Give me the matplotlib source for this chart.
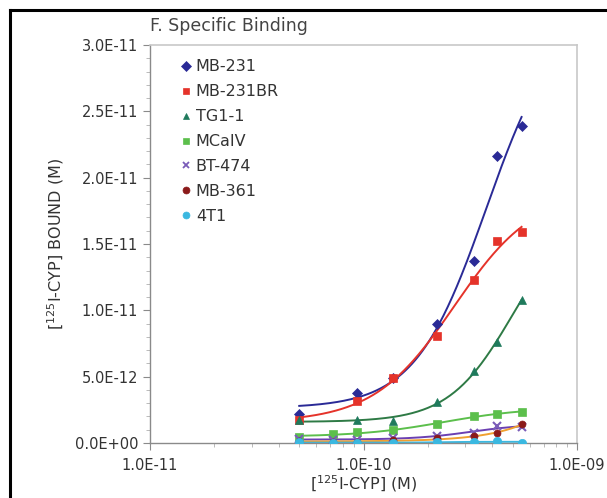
import numpy as np
import matplotlib.pyplot as plt
from matplotlib.lines import Line2D
from matplotlib.ticker import FixedLocator, FuncFormatter, LogLocator, NullFormatter

# free ligand concentrations (M)
conc = [5.0e-11, 9.3e-11, 1.37e-10, 2.2e-10, 3.3e-10, 4.2e-10, 5.5e-10]
conc_low = [5.0e-11, 7.2e-11, 9.3e-11, 1.37e-10, 2.2e-10, 3.3e-10, 4.2e-10, 5.5e-10]

# specific binding (M)
mb231 = [2.2e-12, 3.8e-12, 4.9e-12, 9.0e-12, 1.37e-11, 2.16e-11, 2.39e-11]
mb231br = [1.7e-12, 3.2e-12, 4.9e-12, 8.1e-12, 1.23e-11, 1.52e-11, 1.59e-11]
tg11 = [1.73e-12, 1.73e-12, 1.66e-12, 3.1e-12, 5.4e-12, 7.6e-12, 1.08e-11]
mcaiv = [0.45e-12, 0.7e-12, 0.8e-12, 0.95e-12, 1.4e-12, 2.05e-12, 2.2e-12, 2.35e-12]
bt474 = [0.3e-12, 0.2e-12, 0.25e-12, 0.4e-12, 0.55e-12, 0.75e-12, 1.25e-12, 1.2e-12]
mb361 = [0.15e-12, 0.05e-12, 0.1e-12, 0.2e-12, 0.35e-12, 0.5e-12, 0.75e-12, 1.4e-12]
t41 = [0.05e-12, 0.03e-12, 0.0, 0.02e-12, 0.05e-12, 0.1e-12, 0.15e-12, 0.02e-12]

series = [
    ("MB-231", conc, mb231, "D", "#2a2a96", "#2a2a96", 5.5),
    ("MB-231BR", conc, mb231br, "s", "#e5332a", "#e5332a", 6),
    ("TG1-1", conc, tg11, "^", "#1f7a5c", "#2e7a45", 6),
    ("MCaIV", conc_low, mcaiv, "s", "#5cbf4c", "#5cbf4c", 6),
    ("BT-474", conc_low, bt474, "x", "#7a5cb8", "#6b3fb2", 6),
    ("MB-361", conc_low, mb361, "o", "#8b1a1a", "#f0a030", 5),
    ("4T1", conc_low, t41, "o", "#3bb8e0", "#3bb8e0", 6),
]


def hill_fit(x, y):
    # grid search over K and n, offset and span by least squares
    best = None
    for lk in np.linspace(-10.5, -8.5, 81):
        for n in np.linspace(1.0, 6.0, 51):
            f = x ** n / (10 ** (lk * n) + x ** n)
            A = np.column_stack([np.ones_like(f), f])
            c, *_ = np.linalg.lstsq(A, y, rcond=None)
            r = np.sum((A @ c - y) ** 2)
            if best is None or r < best[0]:
                best = (r, lk, n, c)
    _, lk, n, c = best
    return lambda t: c[0] + c[1] * t ** n / (10 ** (lk * n) + t ** n)


fig = plt.figure(figsize=(6.07, 4.98), dpi=100)
ax = fig.add_axes([0.2471, 0.1104, 0.7035, 0.7992])

handles = []
for name, x, y, mk, mcol, lcol, ms in series:
    x = np.array(x)
    y = np.array(y)
    curve = hill_fit(x, y)
    xs = np.logspace(np.log10(x.min()), np.log10(x.max()), 200)
    ax.plot(xs, curve(xs), color=lcol, lw=1.4, zorder=2)
    ax.plot(x, y, ls="none", marker=mk, color=mcol, ms=ms, mew=1.5 if mk == "x" else 0.5, zorder=3)
    handles.append(Line2D([], [], ls="none", marker=mk, color=mcol, ms=5, mew=1.3 if mk == "x" else 0.5, label=name))

ax.set_xscale("log")
ax.set_xlim(1e-11, 1e-9)
ax.set_ylim(0, 3.0e-11)

ax.xaxis.set_major_locator(FixedLocator([1e-11, 1e-10, 1e-9]))
ax.xaxis.set_minor_locator(LogLocator(base=10, subs=np.arange(2, 10)))
ax.xaxis.set_minor_formatter(NullFormatter())
ax.xaxis.set_major_formatter(FuncFormatter(lambda v, p: "%.1E" % v))
ax.yaxis.set_major_locator(FixedLocator(np.arange(0, 3.01e-11, 5e-12)))
ax.yaxis.set_minor_locator(FixedLocator(np.arange(0, 3.01e-11, 1e-12)))
ax.yaxis.set_major_formatter(FuncFormatter(lambda v, p: "%.1E" % v))

for s in ["top", "right"]:
    ax.spines[s].set_color("#c8c8c8")
    ax.spines[s].set_linewidth(1.2)
for s in ["left", "bottom"]:
    ax.spines[s].set_color("#8a8a8a")
    ax.spines[s].set_linewidth(1.0)

ax.tick_params(which="major", direction="out", length=5, color="#8a8a8a", labelsize=10.5, labelcolor="#333333")
ax.tick_params(which="minor", direction="out", length=3, color="#b0b0b0")
ax.tick_params(axis="x", which="major", pad=6)

ax.set_xlabel("[$^{125}$I-CYP] (M)", fontsize=11.5, color="#333333", labelpad=0)
ax.set_ylabel("[$^{125}$I-CYP] BOUND (M)", fontsize=11.5, color="#333333", labelpad=6)
ax.text(0.0, 1.025, "F. Specific Binding", transform=ax.transAxes, fontsize=12.5, color="#444444", ha="left", va="bottom")

ax.legend(handles=handles, loc="upper left", bbox_to_anchor=(0.04, 1.0), frameon=False,
          fontsize=11.5, handlelength=0.6, handletextpad=0.3, labelspacing=0.62, labelcolor="#333333")

# page frame around the panel
fig.add_artist(Line2D([10 / 607, 1.0], [1 - 10 / 498, 1 - 10 / 498], color="black", lw=2.2))
fig.add_artist(Line2D([10 / 607, 10 / 607], [0.0, 1 - 10 / 498], color="black", lw=2.2))

fig.savefig("out.png", dpi=100)
